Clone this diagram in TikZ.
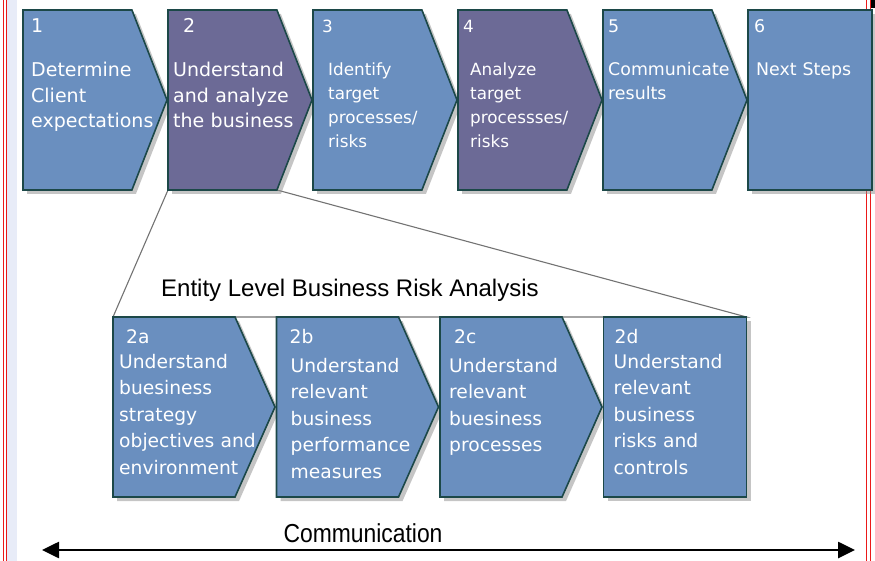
\documentclass[tikz,border=0pt]{standalone}
\usepackage{fontspec}
\setmainfont{DejaVu Sans}
\newfontfamily\arialfont{Liberation Sans}
\usetikzlibrary{shapes.symbols,shadows,positioning,calc,arrows.meta,backgrounds}

\definecolor{phaseblue}{RGB}{106,143,191}
\definecolor{phasepurple}{RGB}{108,106,150}
\definecolor{phaseline}{RGB}{28,72,72}
\definecolor{screenred}{RGB}{235,25,25}
\definecolor{screenband}{RGB}{232,236,248}

\begin{document}
\begin{tikzpicture}[x=1pt, y=-1pt,
  phase/.style={shape=signal, signal to=east, signal from=nowhere, draw=phaseline, line width=1.6pt, fill=phaseblue, minimum height=180pt, inner sep=0pt, outer sep=0pt, drop shadow={shadow xshift=4pt, shadow yshift=-4pt, fill=black!45}},
  toprow/.style={phase, minimum width=144pt, signal pointer angle=137.4},
  subrow/.style={phase, minimum width=162pt, signal pointer angle=132.1},
  lastbox/.style={phase, shape=rectangle},
  phasetext/.style={text=white, inner sep=0pt, anchor=base west, align=left, text width=150pt},
  bigtext/.style={phasetext, font=\fontsize{19}{25.5}\selectfont},
  smalltext/.style={phasetext, font=\fontsize{16.8}{23.7}\selectfont},
  midtext/.style={phasetext, font=\fontsize{17.4}{23.7}\selectfont},
  subtext/.style={phasetext, font=\fontsize{18.7}{26.5}\selectfont}]
\useasboundingbox (0,0) rectangle (875,561);

% screen frame
\fill[screenband] (7,0) rectangle (17,561);
\draw[screenred, line width=0.9pt] (3.5,0) -- (3.5,561) (6.5,0) -- (6.5,561);
\draw[screenred, line width=0.9pt] (866.7,0) -- (866.7,561) (870,0) -- (870,561);
\fill[black] (870.5,0) rectangle (875,8);

% top row
\node[toprow, anchor=north west] (s1) at (23,10) {};
\node[toprow, fill=phasepurple, right=1pt of s1] (s2) {};
\node[toprow, right=1pt of s2] (s3) {};
\node[toprow, fill=phasepurple, right=1pt of s3] (s4) {};
\node[toprow, right=1pt of s4] (s5) {};
\node[lastbox, minimum width=124pt, right=1pt of s5] (s6) {};

\node[bigtext] (n1) at ($(s1.north west)+(8,23)$) {1};
\node[bigtext] (t1) at ($(s1.north west)+(8,67)$) {Determine\\Client\\expectations};
\node[bigtext] (n2) at ($(s2.north west)+(15,23)$) {2};
\node[bigtext] (t2) at ($(s2.north west)+(5,67)$) {Understand\\and analyze\\the business};
\node[smalltext] (n3) at ($(s3.north west)+(9,23)$) {3};
\node[smalltext] (t3) at ($(s3.north west)+(15,66)$) {Identify\\target\\processes/\\risks};
\node[smalltext] (n4) at ($(s4.north west)+(5,23)$) {4};
\node[smalltext] (t4) at ($(s4.north west)+(12,66)$) {Analyze\\target\\processses/\\risks};
\node[midtext] (n5) at ($(s5.north west)+(5,23)$) {5};
\node[midtext] (t5) at ($(s5.north west)+(5,66)$) {Communicate\\results};
\node[midtext] (n6) at ($(s6.north west)+(6,23)$) {6};
\node[midtext] (t6) at ($(s6.north west)+(8,66)$) {Next Steps};

% zoomed sub-steps of 2
\node[subrow, anchor=north west] (s2a) at (113,317) {};
\node[subrow, right=1.5pt of s2a] (s2b) {};
\node[subrow, right=1.5pt of s2b] (s2c) {};
\node[lastbox, minimum width=143pt, right=1.5pt of s2c] (s2d) {};

\node[subtext] (n2a) at ($(s2a.north west)+(13,26)$) {2a};
\node[subtext] (t2a) at ($(s2a.north west)+(6,51)$) {Understand\\buesiness\\strategy\\objectives and\\environment};
\node[subtext] (n2b) at ($(s2b.north west)+(13,26)$) {2b};
\node[subtext] (t2b) at ($(s2b.north west)+(14,55)$) {Understand\\relevant\\business\\performance\\measures};
\node[subtext] (n2c) at ($(s2c.north west)+(14,26)$) {2c};
\node[subtext] (t2c) at ($(s2c.north west)+(9,55)$) {Understand\\relevant\\buesiness\\processes};
\node[subtext] (n2d) at ($(s2d.north west)+(11,26)$) {2d};
\node[subtext] (t2d) at ($(s2d.north west)+(10,51)$) {Understand\\relevant\\business\\risks and\\controls};

\coordinate (s2corner) at ($(s2.south west)+(109,0)$);
\begin{scope}[on background layer]
\draw[black!55, line width=1.1pt] (s2.south west) -- (s2a.north west) -- (s2d.north east) -- (s2corner);
\end{scope}

\node[font=\arialfont\fontsize{24}{28}\selectfont, anchor=base west, inner sep=0pt] (entity) at (161,296) {Entity Level Business Risk Analysis};

% communication arrow
\node[font=\arialfont\fontsize{26}{30}\selectfont, xscale=0.88, anchor=base, inner sep=0pt] (comm) at (363,542) {Communication};
\coordinate (commleft) at (42,550);
\coordinate (commright) at (855,550);
\draw[line width=2.6pt, {Triangle[length=17pt,width=16pt]}-{Triangle[length=17pt,width=16pt]}] (commleft) -- (commright);
\end{tikzpicture}
\end{document}
